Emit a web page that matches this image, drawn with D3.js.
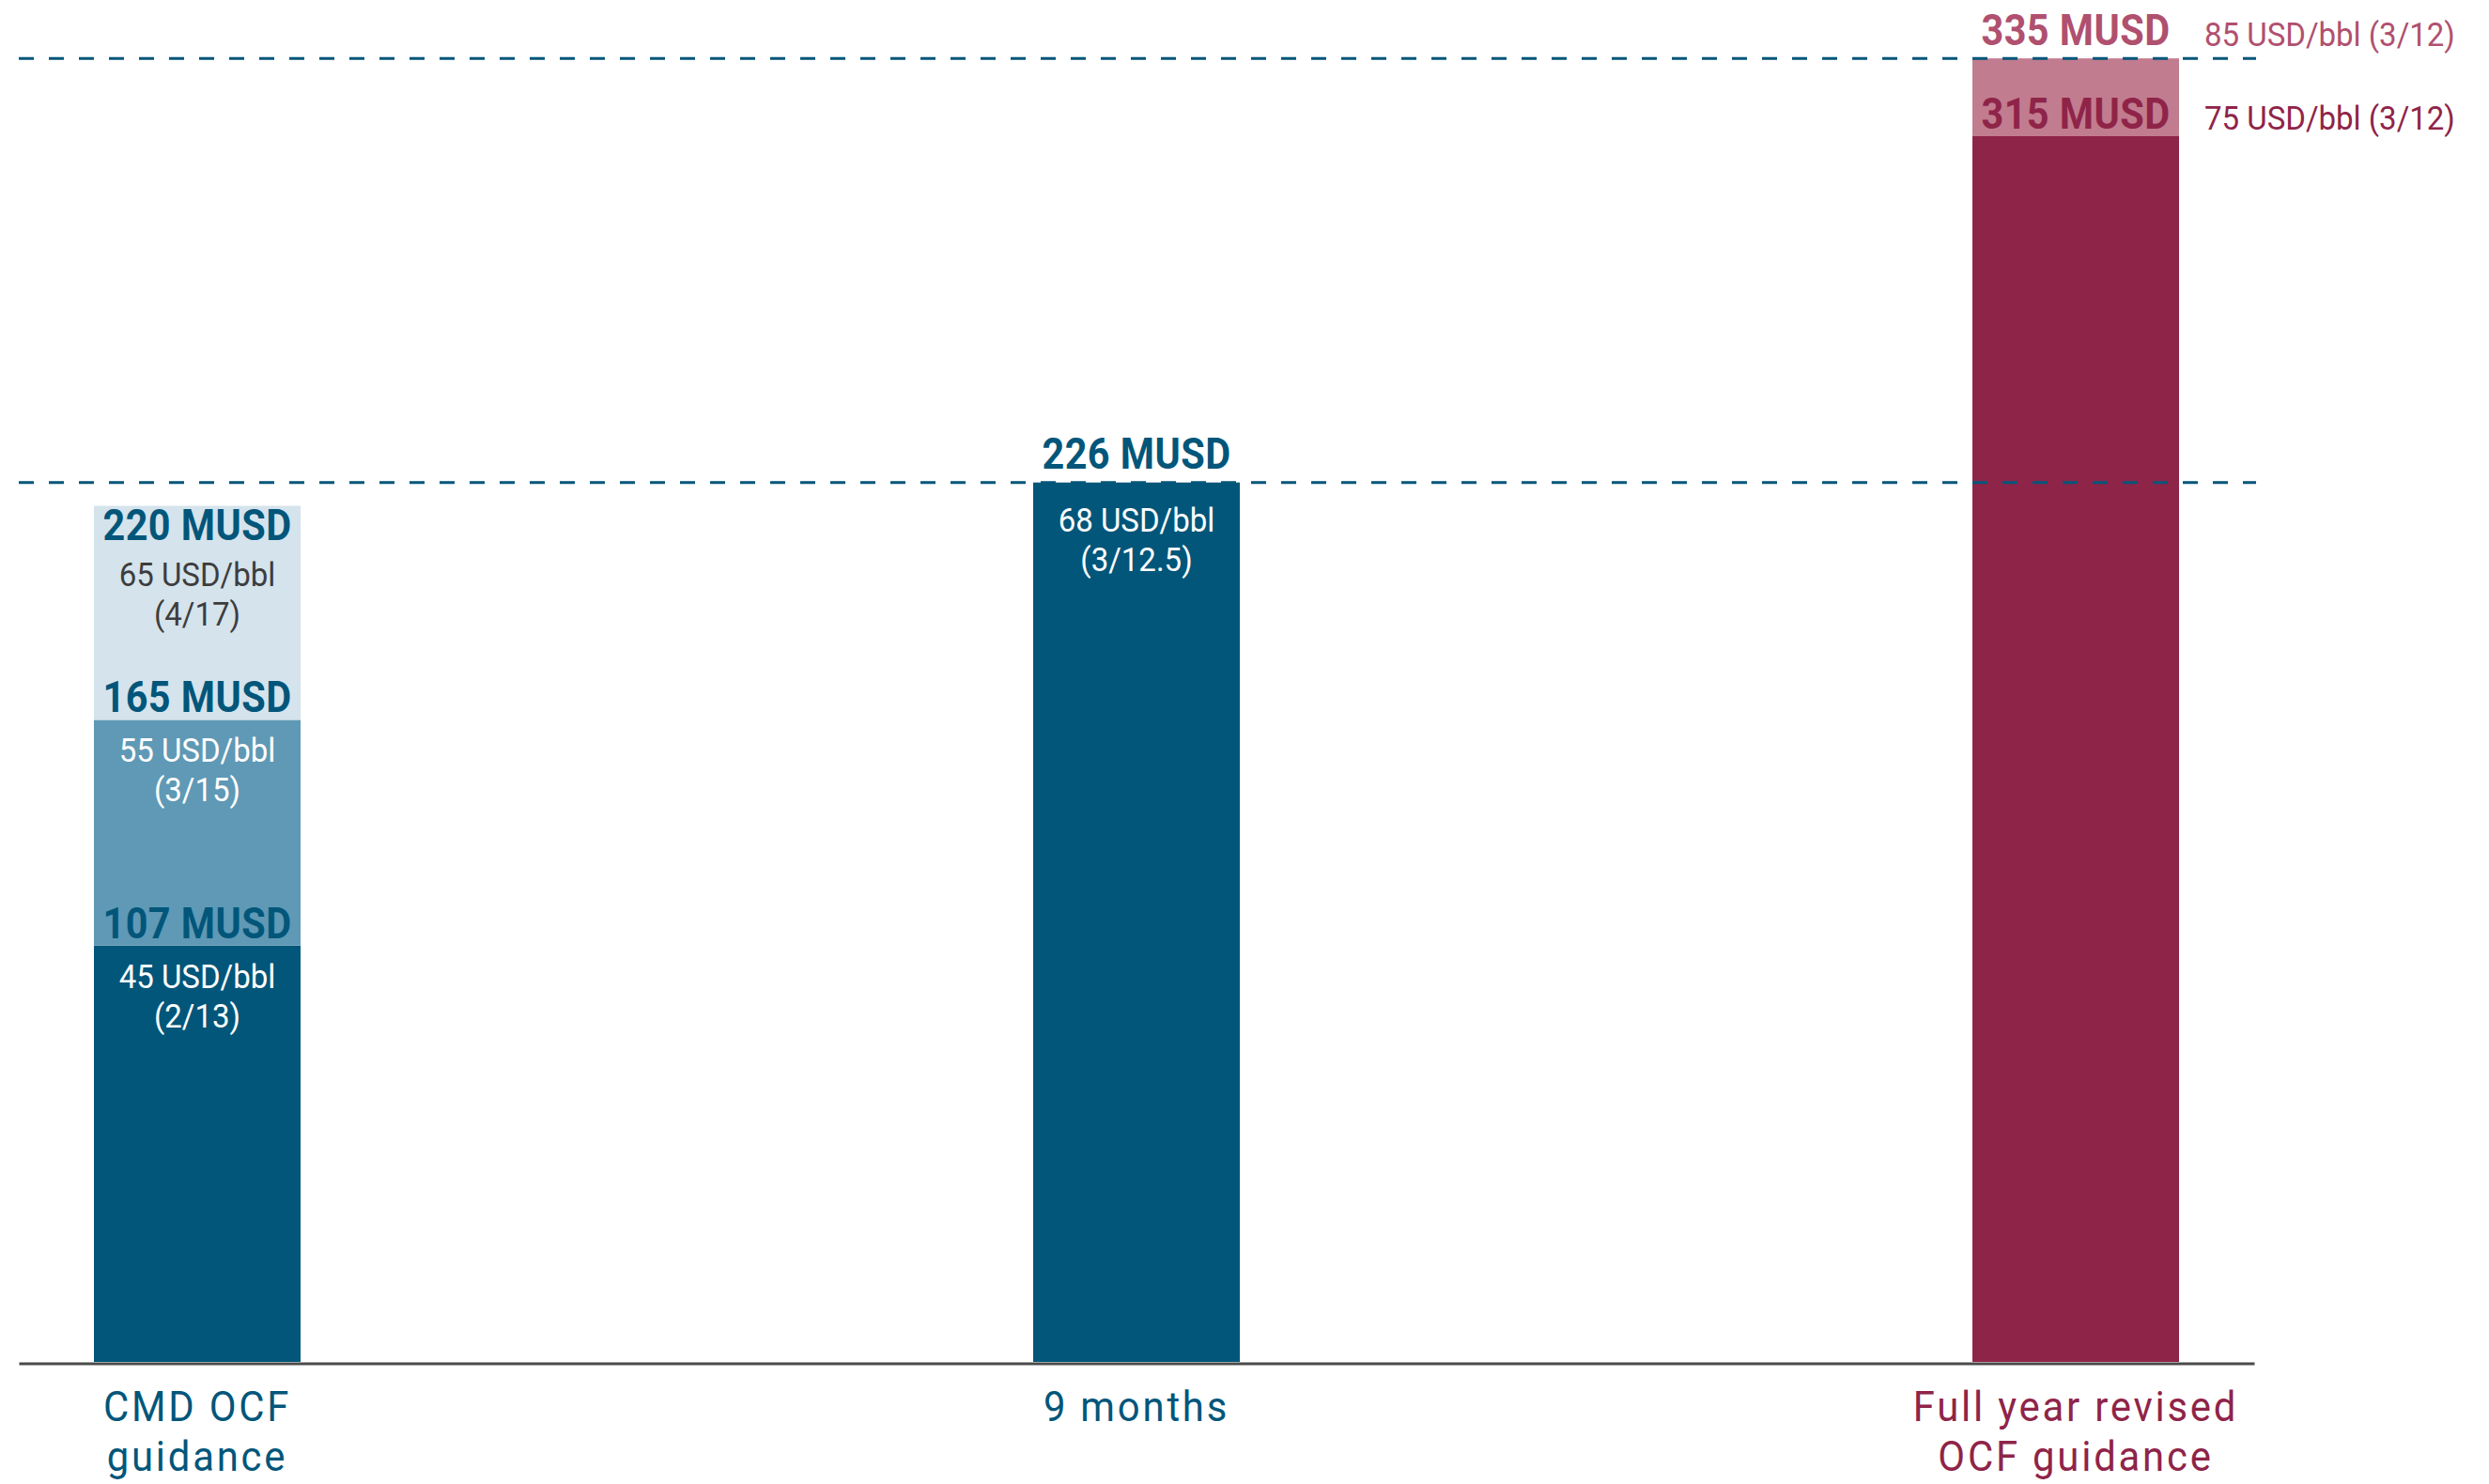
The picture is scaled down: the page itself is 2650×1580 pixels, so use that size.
<!DOCTYPE html>
<html>
<head>
<meta charset="utf-8">
<script src="https://cdn.jsdelivr.net/npm/d3@7"></script>
<style>
  html, body { margin: 0; padding: 0; background: #ffffff; }
  svg { display: block; }
  text { font-family: Roboto, "Liberation Sans", sans-serif; }
</style>
</head>
<body>
<svg id="chart" width="2650" height="1580"></svg>
<script>
// ---- data ----
const categories = ["CMD OCF guidance", "9 months", "Full year revised OCF guidance"];
const categoryLines = [["CMD OCF", "guidance"], ["9 months"], ["Full year revised", "OCF guidance"]];

const cmdLevels = [107, 165, 220];                       // MUSD, cumulative stack tops
const cmdPrices = ["45 USD/bbl", "55 USD/bbl", "65 USD/bbl"];
const cmdCases = ["(2/13)", "(3/15)", "(4/17)"];

const nineMonthsValue = 226;                             // MUSD
const nineMonthsPrice = "68 USD/bbl";
const nineMonthsCase = "(3/12.5)";

const fullYearLevels = [315, 335];                       // MUSD
const fullYearPrices = ["75 USD/bbl (3/12)", "85 USD/bbl (3/12)"];

const referenceLines = [226, 335];

// ---- styles ----
const TEAL = "#02567a", MID = "#5f99b5", LIGHT = "#d5e3ec";
const MAROON = "#8f2449", ROSE = "#c27c8f", ROSE_TEXT = "#b0506f";
const GREY_TEXT = "#3d3d3d";

const svg = d3.select("#chart");

const x = d3.scaleBand().domain(categories).range([20, 2400]).paddingInner(0.78).paddingOuter(0.08);
const y = d3.scaleLinear().domain([0, 350]).range([1450, 0]);
const bw = x.bandwidth();

// ---- bars ----
const cmdColors = [TEAL, MID, LIGHT];
const cmdSegs = cmdLevels.map((v, i) => ({ lo: i ? cmdLevels[i - 1] : 0, hi: v, color: cmdColors[i] }));
svg.append("g").selectAll("rect").data(cmdSegs).join("rect")
  .attr("x", x(categories[0])).attr("width", bw)
  .attr("y", d => y(d.hi)).attr("height", d => y(d.lo) - y(d.hi))
  .attr("fill", d => d.color);

svg.append("rect")
  .attr("x", x(categories[1])).attr("width", bw)
  .attr("y", y(nineMonthsValue)).attr("height", y(0) - y(nineMonthsValue))
  .attr("fill", TEAL);

const fyColors = [MAROON, ROSE];
const fySegs = fullYearLevels.map((v, i) => ({ lo: i ? fullYearLevels[i - 1] : 0, hi: v, color: fyColors[i] }));
svg.append("g").selectAll("rect").data(fySegs).join("rect")
  .attr("x", x(categories[2])).attr("width", bw)
  .attr("y", d => y(d.hi)).attr("height", d => y(d.lo) - y(d.hi))
  .attr("fill", d => d.color);

// ---- reference dashed lines ----
svg.append("g").selectAll("line").data(referenceLines).join("line")
  .attr("x1", 20).attr("x2", 2402)
  .attr("y1", d => y(d)).attr("y2", d => y(d))
  .attr("stroke", TEAL).attr("stroke-width", 3)
  .attr("stroke-dasharray", "16,16");

// ---- axis ----
const axis = svg.append("g").attr("transform", `translate(0,${y(0) + 1.5})`)
  .call(d3.axisBottom(x).tickSize(0).tickSizeOuter(0).tickFormat(""));
axis.select(".domain").attr("stroke", "#4a4a4a").attr("stroke-width", 3);

// ---- text helper (horizontally condensed, multi-line via tspans) ----
function label(lines, px, by, opts) {
  const g = svg.append("g").attr("transform", `translate(${px},${by}) scale(${opts.sx},1)`);
  const t = g.append("text").attr("x", 0).attr("y", 0)
    .attr("text-anchor", opts.anchor || "middle")
    .attr("font-size", opts.size)
    .attr("font-weight", opts.weight || "normal")
    .attr("letter-spacing", opts.ls || 0)
    .attr("fill", opts.color);
  [].concat(lines).forEach((ln, j) => {
    t.append("tspan").attr("x", 0).attr("dy", j ? opts.lh : 0).text(ln);
  });
}
const bold = (t, px, by, color, anchor) => label(t, px, by, { size: 46, weight: "bold", sx: 0.9, ls: 0.5, color, anchor });
const reg = (t, px, by, color, anchor) => label(t, px, by, { size: 35.5, sx: 0.93, ls: 0, lh: 42, color, anchor });

// category labels
const catColors = [TEAL, TEAL, MAROON];
categories.forEach((c, i) => {
  const cx = x(c) + bw / 2;
  label(categoryLines[i], cx, 1513, { size: 45, sx: 0.93, ls: 3, lh: 53, color: catColors[i] });
});

// CMD bar labels
const c0 = x(categories[0]) + bw / 2;
cmdLevels.forEach((v, i) => {
  const isTop = i === cmdLevels.length - 1;
  const by = isTop ? y(v) + 36 : y(v) - 8;
  bold(v + " MUSD", c0, by, TEAL);
  const pCol = isTop ? GREY_TEXT : "#ffffff";
  const pBase = isTop ? y(v) + 85 : y(v) + 45;
  reg([cmdPrices[i], cmdCases[i]], c0, pBase, pCol);
});

// 9 months labels
const c1 = x(categories[1]) + bw / 2;
bold(nineMonthsValue + " MUSD", c1, y(nineMonthsValue) - 15, TEAL);
reg([nineMonthsPrice, nineMonthsCase], c1, y(nineMonthsValue) + 52, "#ffffff");

// Full year labels
const c2 = x(categories[2]) + bw / 2;
const fyLabelCols = [MAROON, ROSE_TEXT];
fullYearLevels.forEach((v, i) => {
  const isTop = i === fullYearLevels.length - 1;
  const by = isTop ? y(v) - 14 : y(v) - 8;
  bold(v + " MUSD", c2, by, fyLabelCols[i]);
  reg(fullYearPrices[i], x(categories[2]) + bw + 27, by + 1, fyLabelCols[i], "start");
});
</script>
</body>
</html>
